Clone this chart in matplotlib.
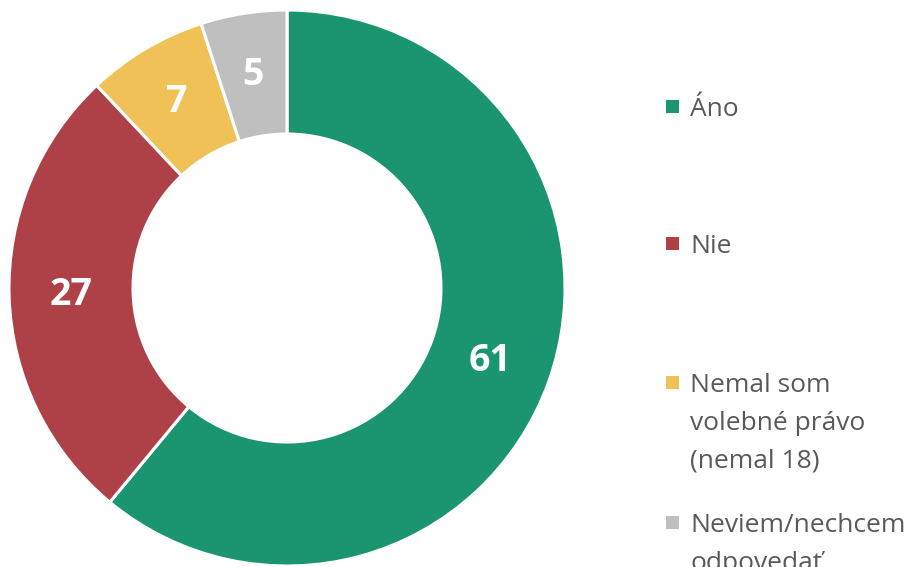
import matplotlib
matplotlib.use("Agg")
import matplotlib.pyplot as plt
from matplotlib.patches import Rectangle

categories = ["Áno", "Nie", "Nemal som\nvolebné právo\n(nemal 18)", "Neviem/nechcem\nodpovedať"]
values = [61, 27, 7, 5]
colors = ["#1B9570", "#AE4148", "#EFC156", "#BFBFBF"]

W, H = 922, 567
fig = plt.figure(figsize=(W / 100, H / 100), dpi=100)
ax = fig.add_axes([0, 0, 1, 1])

cx, cy = 287, H - 288
R = 278
inner = 154
width = R - inner

wedges, texts, autotexts = ax.pie(
    values, colors=colors, startangle=90, counterclock=False,
    center=(cx, cy), radius=R,
    wedgeprops=dict(width=width, edgecolor="white", linewidth=2.2),
    autopct=lambda p: f"{p:.0f}", pctdistance=(R - width / 2) / R,
    textprops=dict(color="white", fontsize=27, fontweight="bold", family=["Open Sans", "DejaVu Sans"]),
)
ax.set_xlim(0, W)
ax.set_ylim(0, H)
ax.set_aspect("equal")
ax.axis("off")

# legend (manual, Excel-like)
marker_x = 666
text_x = 690
sq = 13
centers = [106, 243, 382, 522]
line_step = 38
for cat, col, yc in zip(categories, colors, centers):
    ax.add_patch(Rectangle((marker_x, H - yc - sq / 2), sq, sq, facecolor=col, edgecolor="none"))
    for j, line in enumerate(cat.split("\n")):
        ax.text(text_x, H - (yc + 10 + j * line_step), line, ha="left", va="baseline",
                fontsize=19, color="#595959", family=["Open Sans", "DejaVu Sans"])

fig.savefig("out.png", dpi=100)
